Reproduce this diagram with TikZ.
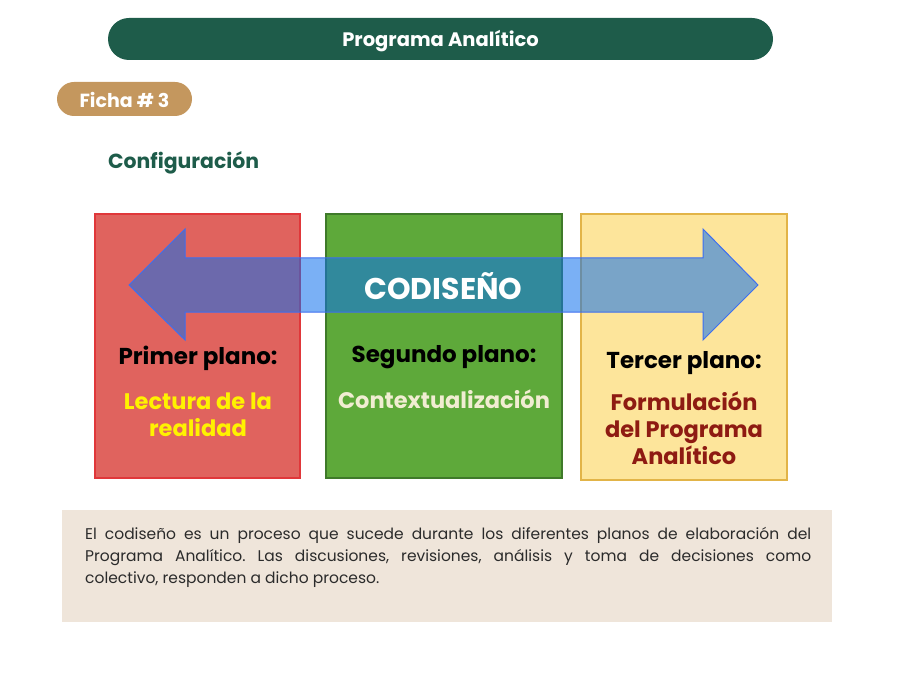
\documentclass[tikz,border=0pt]{standalone}
\usepackage{fontspec}
\setmainfont{Poppins}
\definecolor{darkgreen}{HTML}{1E5C4A}
\definecolor{ficha}{HTML}{C4975E}
\definecolor{redfill}{HTML}{E0635E}
\definecolor{redline}{HTML}{E0373A}
\definecolor{greenfill}{HTML}{5EA93A}
\definecolor{greenline}{HTML}{3F7A2A}
\definecolor{yellowfill}{HTML}{FDE59B}
\definecolor{yellowline}{HTML}{E2B448}
\definecolor{arrowblue}{HTML}{0D6FED}
\definecolor{arrowline}{HTML}{3D6EF0}
\definecolor{litered}{HTML}{8E1B12}
\definecolor{cream}{HTML}{F1EDD2}
\definecolor{boxbg}{HTML}{EFE5DA}
\definecolor{bodytext}{HTML}{2B2B2B}
\tikzset{
  planbox/.style={draw, line width=1.2pt, minimum height=264pt, inner sep=0pt},
  heading/.style={font=\fontsize{23}{26}\selectfont\bfseries, text=black, align=center},
  content/.style={font=\fontsize{22.5}{27}\selectfont\bfseries, align=center},
}
\begin{document}
\begin{tikzpicture}[x=1pt,y=-1pt]
\useasboundingbox (0,0) rectangle (900,695);
% title bar
\node[fill=darkgreen, rounded corners=21pt, minimum width=665pt, minimum height=42pt, inner sep=0pt,
  text=white, font=\fontsize{19.5}{22}\selectfont\bfseries] (title) at (440.5,39) {};
\node[text=white, font=\fontsize{19.5}{22}\selectfont\bfseries] (titletext) at (440.5,41) {Programa Analítico};
% ficha pill
\node[fill=ficha, rounded corners=17pt, minimum width=135pt, minimum height=34pt, inner sep=0pt] (ficha) at (124.5,99) {};
\node[text=white, font=\fontsize{19}{22}\selectfont\bfseries] (fichatext) at (124.5,100) {Ficha \# 3};
% configuracion
\node[anchor=west, text=darkgreen, font=\fontsize{20.4}{24}\selectfont\bfseries, inner sep=0pt] (config) at (108,163) {Configuración};
% boxes
\node[planbox, fill=redfill, draw=redline, minimum width=205pt] (red) at (197.5,346) {};
\node[planbox, fill=greenfill, draw=greenline, minimum width=236pt] (green) at (444,346) {};
\node[planbox, fill=yellowfill, draw=yellowline, minimum width=206pt, minimum height=266pt] (yellow) at (684,347) {};
% double arrow
\draw[draw=arrowline, line width=1pt, fill=arrowblue, fill opacity=0.55, line join=miter]
  (129,285) -- (185,229) -- (185,258) -- (703,258) -- (703,229) -- (758,285)
  -- (703,340) -- (703,312) -- (185,312) -- (185,340) -- cycle;
\node[text=white, font=\fontsize{30}{34}\selectfont\bfseries] (codiseno) at (443.5,286) {CODISEÑO};
% texts
\node[heading] (h1) at (198,358) {Primer plano:};
\node[content, text=yellow] (c1) at (198,414.5) {Lectura de la\\realidad};
\node[heading] (h2) at (444,357) {Segundo plano:};
\node[content, text=cream] (c2) at (444,399) {Contextualización};
\node[heading] (h3) at (684,363) {Tercer plano:};
\node[content, text=litered] (c3) at (684,428) {Formulación\\del Programa\\Analítico};
% description box
\node[fill=boxbg, minimum width=770pt, minimum height=112pt, inner sep=0pt] (desc) at (447,566) {};
\node[anchor=north west, inner sep=0pt, text=bodytext] (desctext) at (85,527) {\parbox[t]{726pt}{\fontsize{15.5}{22}\selectfont\frenchspacing
El codiseño es un proceso que sucede durante los diferentes planos de elaboración del\linebreak
Programa Analítico. Las discusiones, revisiones, análisis y toma de decisiones como\linebreak
colectivo, responden a dicho proceso.}};
\end{tikzpicture}
\end{document}
